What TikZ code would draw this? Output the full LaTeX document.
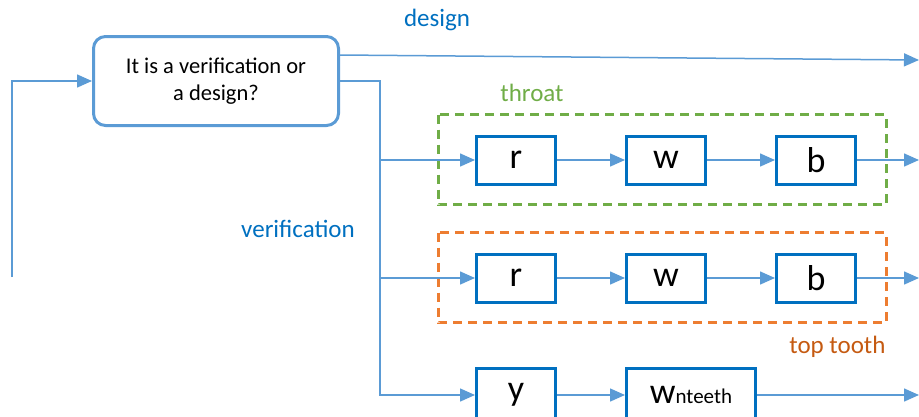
\documentclass[tikz,border=0pt]{standalone}
\usepackage{fontspec}
\setmainfont{Carlito}
\usetikzlibrary{arrows.meta,positioning,calc}
\definecolor{boxblue}{HTML}{0070C0}
\definecolor{lineblue}{HTML}{5B9BD5}
\definecolor{throatgreen}{HTML}{70AD47}
\definecolor{toothorange}{HTML}{ED7D31}
\definecolor{toothtext}{HTML}{C55A11}
\tikzset{
    conn/.style     = {-{Triangle[length=15pt,width=13pt]}, line width=1.5pt, draw=lineblue},
    question/.style = {draw=lineblue, line width=3pt, rounded corners=12pt,
            minimum width=245pt, minimum height=89pt,
            align=center, font=\fontsize{22.5}{27}\selectfont},
    stage/.style    = {draw=boxblue, line width=3pt, inner sep=0pt,
            minimum width=79pt, minimum height=48pt,
            font=\fontsize{36}{40}\selectfont},
    group/.style    = {line width=3pt, dash pattern=on 9pt off 6pt},
    tag/.style      = {font=\fontsize{25}{30}\selectfont},
}
\begin{document}
\begin{tikzpicture}[x=1pt, y=-1pt, node distance=68pt]
    \useasboundingbox (0,0) rectangle (919,416);
    % Nodes
    \node[question] (q) at (216,81) {It is a verification or\\a design?};
    \node[stage] (r1) at (516,160) {r};
    \node[stage, right=of r1] (w1) {w};
    \node[stage, right=of w1] (b1) {b};
    \node[stage] (r2) at (516,278) {r};
    \node[stage, right=of r2] (w2) {w};
    \node[stage, right=of w2] (b2) {b};
    \node[stage, minimum height=54pt] (y3) at (516,395) {y};
    \node[stage, right=of y3, minimum height=54pt, minimum width=129pt] (wn)
        {w{\fontsize{21}{24}\selectfont nteeth}};
    % Dashed groups
    \draw[group, draw=throatgreen] ($(r1.north west)+(-37,-20)$) rectangle ($(b1.south east)+(29,19)$);
    \draw[group, draw=toothorange] ($(r2.north west)+(-37,-20)$) rectangle ($(b2.south east)+(29,19)$);
    % Labels
    \node[tag, text=boxblue] (designlbl) at (437,20) {design};
    \node[tag, text=boxblue] (veriflbl) at (298,229) {verification};
    \node[tag, text=throatgreen] (throatlbl) at (532,93) {throat};
    \node[tag, text=toothtext, anchor=east] (toothlbl) at (889,347) {top tooth};
    % Free ends
    \coordinate (back) at (12,277);
    \coordinate (split) at ([xshift=40pt]q.east);
    \coordinate (designout) at (919,60);
    \coordinate (out1) at (919,160);
    \coordinate (out2) at (919,278);
    \coordinate (out3) at (919,395);
    % Arrows
    \draw[conn] (back) |- (q.west);
    \draw[conn] ([yshift=26pt]q.east) -- (designout);
    \foreach \n in {r1,r2,y3}
        \draw[conn] (q.east) -- (split) |- (\n.west);
    \draw[conn] (r1) -- (w1);
    \draw[conn] (w1) -- (b1);
    \draw[conn] (b1) -- (out1);
    \draw[conn] (r2) -- (w2);
    \draw[conn] (w2) -- (b2);
    \draw[conn] (b2) -- (out2);
    \draw[conn] (y3) -- (wn);
    \draw[conn] (wn) -- (out3);
\end{tikzpicture}
\end{document}
